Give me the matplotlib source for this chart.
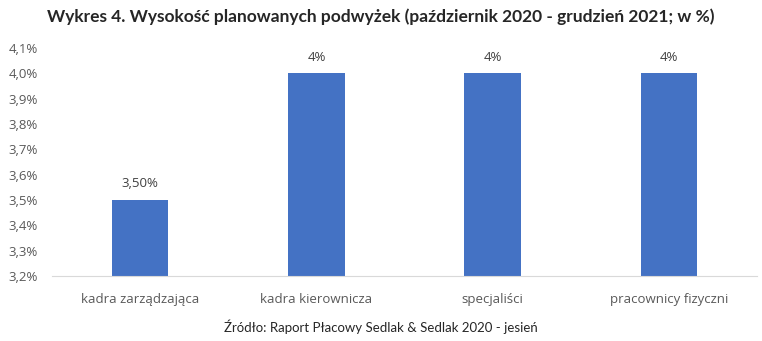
import matplotlib.pyplot as plt
from matplotlib.ticker import FuncFormatter

categories = ["kadra zarządzająca", "kadra kierownicza", "specjaliści", "pracownicy fizyczni"]
values = [3.5, 4.0, 4.0, 4.0]
value_labels = ["3,50%", "4%", "4%", "4%"]
y_ticks = [3.2, 3.3, 3.4, 3.5, 3.6, 3.7, 3.8, 3.9, 4.0, 4.1]

W, H = 762, 341
fig = plt.figure(figsize=(W / 100, H / 100), dpi=100)
fig.patch.set_facecolor("white")
ax = fig.add_axes([52 / W, 65 / H, (757 - 52) / W, (276 - 48) / H])

x = range(len(categories))
ax.bar(x, values, width=0.32, color="#4472C4", zorder=2)
ax.set_xlim(-0.5, len(categories) - 0.5)
ax.set_ylim(3.2, 4.1)
ax.set_yticks(y_ticks)
ax.yaxis.set_major_formatter(FuncFormatter(lambda v, p: f"{v:.1f}%".replace(".", ",")))
ax.set_xticks(list(x))
ax.set_xticklabels(categories)

for s in ["top", "right", "left"]:
    ax.spines[s].set_visible(False)
ax.spines["bottom"].set_color("#d9d9d9")
ax.tick_params(axis="both", length=0, colors="#595959", labelsize=9.5)
ax.tick_params(axis="y", pad=10)
ax.tick_params(axis="x", pad=12)
for lab in ax.get_xticklabels() + ax.get_yticklabels():
    lab.set_family("Open Sans")

for xi, v, lab in zip(x, values, value_labels):
    ax.annotate(lab, (xi, v), xytext=(0, 7), textcoords="offset points",
                ha="center", va="bottom", fontsize=9.5, color="#404040", family="Open Sans")

fig.text(0.5, 1 - 17 / H, "Wykres 4. Wysokość planowanych podwyżek (październik 2020 - grudzień 2021; w %)",
         ha="center", va="center", fontsize=12.5, fontweight="bold", color="#262626", family="Lato")
fig.text(0.5, 1 - 327 / H, "Źródło: Raport Płacowy Sedlak & Sedlak 2020 - jesień",
         ha="center", va="center", fontsize=9.5, color="#262626", family="Lato")

fig.savefig("out.png", dpi=100)
